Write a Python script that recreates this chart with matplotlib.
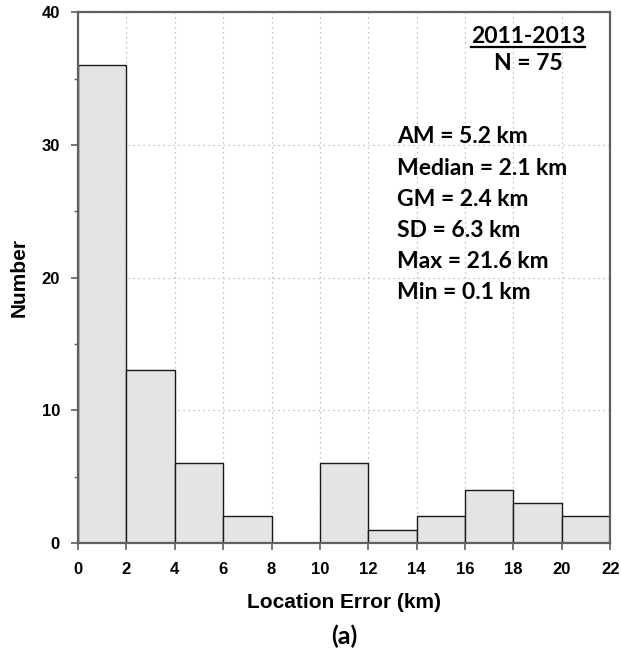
import matplotlib
matplotlib.use("Agg")
import matplotlib.pyplot as plt
from matplotlib.lines import Line2D
from matplotlib.ticker import MultipleLocator

# location error histogram, 2 km bins
bin_edges = [0, 2, 4, 6, 8, 10, 12, 14, 16, 18, 20, 22]
counts = [36, 13, 6, 2, 0, 6, 1, 2, 4, 3, 2]

period = "2011-2013"
n_events = 75
stats = ["AM = 5.2 km", "Median = 2.1 km", "GM = 2.4 km",
         "SD = 6.3 km", "Max = 21.6 km", "Min = 0.1 km"]

tick_font = "Liberation Sans"
note_font = "Lato"

fig = plt.figure(figsize=(6.21, 6.57), dpi=100)
ax = fig.add_axes([0.1256, 0.1735, 0.857, 0.808])

ax.bar(bin_edges[:-1], counts, width=2, align="edge",
       facecolor="#e4e4e4", edgecolor="#1a1a1a", linewidth=1.0, zorder=2)

ax.set_xlim(0, 22)
ax.set_ylim(0, 40)
ax.xaxis.set_major_locator(MultipleLocator(2))
ax.yaxis.set_major_locator(MultipleLocator(10))
ax.yaxis.set_minor_locator(MultipleLocator(5))

ax.set_axisbelow(True)
ax.grid(True, which="major", linestyle=(0, (1, 3)), color="#b0b0b0", linewidth=0.9)

for s in ax.spines.values():
    s.set_color("#606060")
    s.set_linewidth(1.6)

ax.tick_params(which="major", direction="out", length=5, width=1.2, color="#606060")
ax.tick_params(axis="x", which="major", pad=9)
ax.tick_params(axis="y", which="major", pad=8)
ax.tick_params(which="minor", direction="out", length=3, width=1.0, color="#606060")
for lab in ax.get_xticklabels() + ax.get_yticklabels():
    lab.set_fontfamily(tick_font)
    lab.set_fontweight("bold")
    lab.set_fontsize(12)

ax.set_xlabel("Location Error (km)", fontfamily=tick_font, fontweight="bold",
              fontsize=15, labelpad=11)
ax.set_ylabel("Number", fontfamily=tick_font, fontweight="bold",
              fontsize=15, labelpad=9)

title = ax.text(0.846, 0.955, period, transform=ax.transAxes, ha="center",
                va="center", fontfamily=note_font, fontweight="bold", fontsize=16.5)
ax.text(0.846, 0.904, f"N = {n_events}", transform=ax.transAxes, ha="center",
        va="center", fontfamily=note_font, fontweight="bold", fontsize=16.5)

for i, line in enumerate(stats):
    ax.text(0.6, 0.765 - i * 0.0588, line, transform=ax.transAxes, ha="left",
            va="center", fontfamily=note_font, fontweight="bold", fontsize=16.5)

fig.text(0.555, 0.032, "(a)", ha="center", va="center",
         fontfamily=note_font, fontweight="bold", fontsize=18)

# underline the period label
renderer = fig.canvas.get_renderer()
bb = title.get_window_extent(renderer).transformed(fig.transFigure.inverted())
fig.add_artist(Line2D([bb.x0, bb.x1], [bb.y0 - 0.001, bb.y0 - 0.001],
                      color="black", linewidth=1.6, transform=fig.transFigure))

fig.savefig("out.png", dpi=100)
